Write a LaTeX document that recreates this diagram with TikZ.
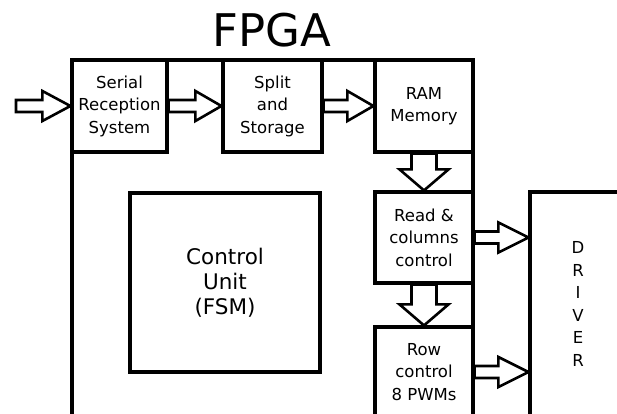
\documentclass[tikz,border=0pt]{standalone}
\usepackage{fontspec}
\setmainfont{DejaVu Sans}
\usetikzlibrary{calc}
\tikzset{
  blk/.style={draw, line width=3.2pt, fill=white, inner sep=0pt, align=center,
    font=\fontsize{16.5}{22.5}\selectfont},
  blockarrow/.style={draw, line width=2.6pt, fill=white, line join=miter},
}
\newcommand{\harr}[3]{\draw[blockarrow] let \p1=(#1), \p2=(#2) in
  (\x1,\y1+6pt) -- (\x2-#3,\y1+6pt) -- (\x2-#3,\y1+15pt) -- (\x2,\y1)
  -- (\x2-#3,\y1-15pt) -- (\x2-#3,\y1-6pt) -- (\x1,\y1-6pt) -- cycle;}
\newcommand{\varr}[3]{\draw[blockarrow] let \p1=(#1), \p2=(#2) in
  (\x1-12.5pt,\y1) -- (\x1-12.5pt,\y2+#3) -- (\x1-24.5pt,\y2+#3) -- (\x1,\y2)
  -- (\x1+24.5pt,\y2+#3) -- (\x1+12.5pt,\y2+#3) -- (\x1+12.5pt,\y1) -- cycle;}
\begin{document}
\begin{tikzpicture}[x=1pt,y=-1pt]
\useasboundingbox (0,0) rectangle (617,414);
\clip (0,0) rectangle (617,414);
% FPGA outline
\draw[line width=3.2pt] (72,430) -- (72,60) -- (473,60) -- (473,430);
\node[anchor=base, font=\fontsize{45}{50}\selectfont] (title) at (272,47) {FPGA};
% blocks
\node[blk, minimum width=95pt, minimum height=92pt] (serial) at (119.5,106) {Serial\\Reception\\System};
\node[blk, minimum width=99pt, minimum height=92pt] (split) at (272.5,106) {Split\\and\\Storage};
\node[blk, minimum width=98pt, minimum height=92pt] (ram) at (424,106) {RAM\\Memory};
\node[blk, minimum width=98pt, minimum height=91pt] (read) at (424,237.5) {Read \&\\columns\\control};
\node[blk, minimum width=98pt, minimum height=90pt] (row) at (424,372) {Row\\control\\8 PWMs};
\node[blk, minimum width=190pt, minimum height=179pt, font=\fontsize{21.5}{25}\selectfont] (cu) at (225,282.5) {Control\\Unit\\(FSM)};
\node[blk, minimum width=96pt, minimum height=224pt] (driver) at (578,304) {D\\R\\I\\V\\E\\R};
% arrows
\coordinate (in) at (16,106);
\harr{in}{serial.west}{28pt}
\harr{serial.east}{split.west}{26pt}
\harr{split.east}{ram.west}{26pt}
\harr{read.east}{driver.west}{30pt}
\harr{row.east}{driver.west}{30pt}
\varr{ram.south}{read.north}{21pt}
\varr{read.south}{row.north}{21pt}
\end{tikzpicture}
\end{document}
